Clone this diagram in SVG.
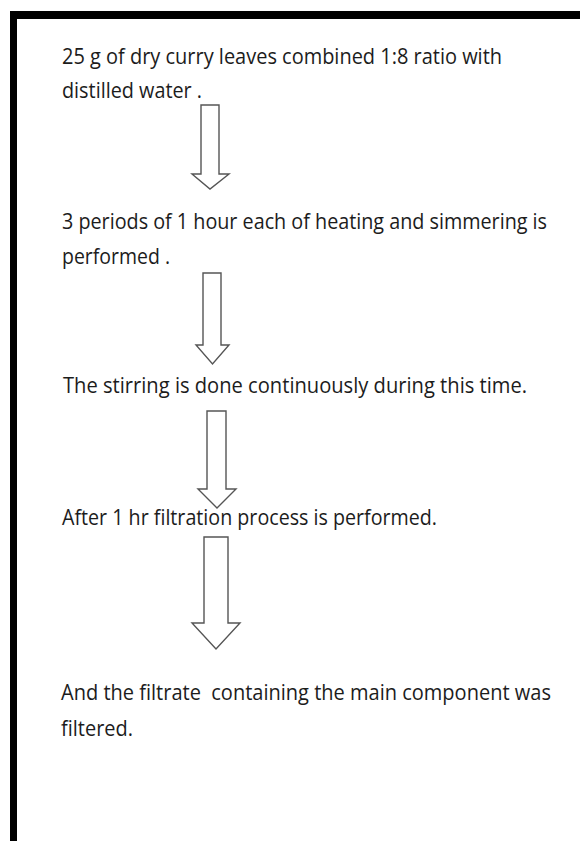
<svg xmlns="http://www.w3.org/2000/svg" width="580" height="841" viewBox="0 0 580 841">
<style>
.t{font-family:"Open Sans",Lato,"Liberation Sans",sans-serif;font-size:22px;fill:#1c1c1c;white-space:pre;font-variant-ligatures:none}
.ar{fill:#fff;stroke:#555;stroke-width:1.4;stroke-linejoin:miter}
</style>
<rect x="0" y="0" width="580" height="841" fill="#fff"/>
<g id="frame">
<rect x="10" y="11" width="570" height="8" fill="#000"/>
<rect x="10" y="11" width="7" height="830" fill="#000"/>
</g>
<g id="step1">
<text class="t" transform="translate(62,64) scale(0.9,1)" x="0" y="0" textLength="488.9" lengthAdjust="spacingAndGlyphs">25 g of dry curry leaves combined 1:8 ratio with</text>
<text class="t" transform="translate(62,98) scale(0.9,1)" x="0" y="0" textLength="155.6" lengthAdjust="spacingAndGlyphs">distilled water .</text>
</g>
<g id="step2">
<text class="t" transform="translate(62,229) scale(0.9,1)" x="0" y="0" textLength="538.9" lengthAdjust="spacingAndGlyphs">3 periods of 1 hour each of heating and simmering is</text>
<text class="t" transform="translate(62,264) scale(0.9,1)" x="0" y="0" textLength="120" lengthAdjust="spacingAndGlyphs">performed .</text>
</g>
<g id="step3">
<text class="t" transform="translate(63,393) scale(0.9,1)" x="0" y="0" textLength="515.6" lengthAdjust="spacingAndGlyphs">The stirring is done continuously during this time.</text>
</g>
<g id="step4">
<text class="t" transform="translate(62,525) scale(0.9,1)" x="0" y="0" textLength="416.7" lengthAdjust="spacingAndGlyphs">After 1 hr filtration process is performed.</text>
</g>
<g id="step5">
<text class="t" transform="translate(61,700) scale(0.9,1)" x="0" y="0" textLength="544.4" lengthAdjust="spacingAndGlyphs">And the filtrate  containing the main component was</text>
<text class="t" transform="translate(61,736) scale(0.9,1)" x="0" y="0" textLength="80" lengthAdjust="spacingAndGlyphs">filtered.</text>
</g>
<g id="connectors">
<polygon class="ar" points="201,105 219,105 219,174 229,174 210,189 192,174 201,174"/>
<polygon class="ar" points="203,273 221,273 221,345 229,345 212.5,364 196,345 203,345"/>
<polygon class="ar" points="207,411 226,411 226,489 236,489 217,508 198,489 207,489"/>
<polygon class="ar" points="204,537 228,537 228,623 240,623 216,649 192,623 204,623"/>
</g>
</svg>
